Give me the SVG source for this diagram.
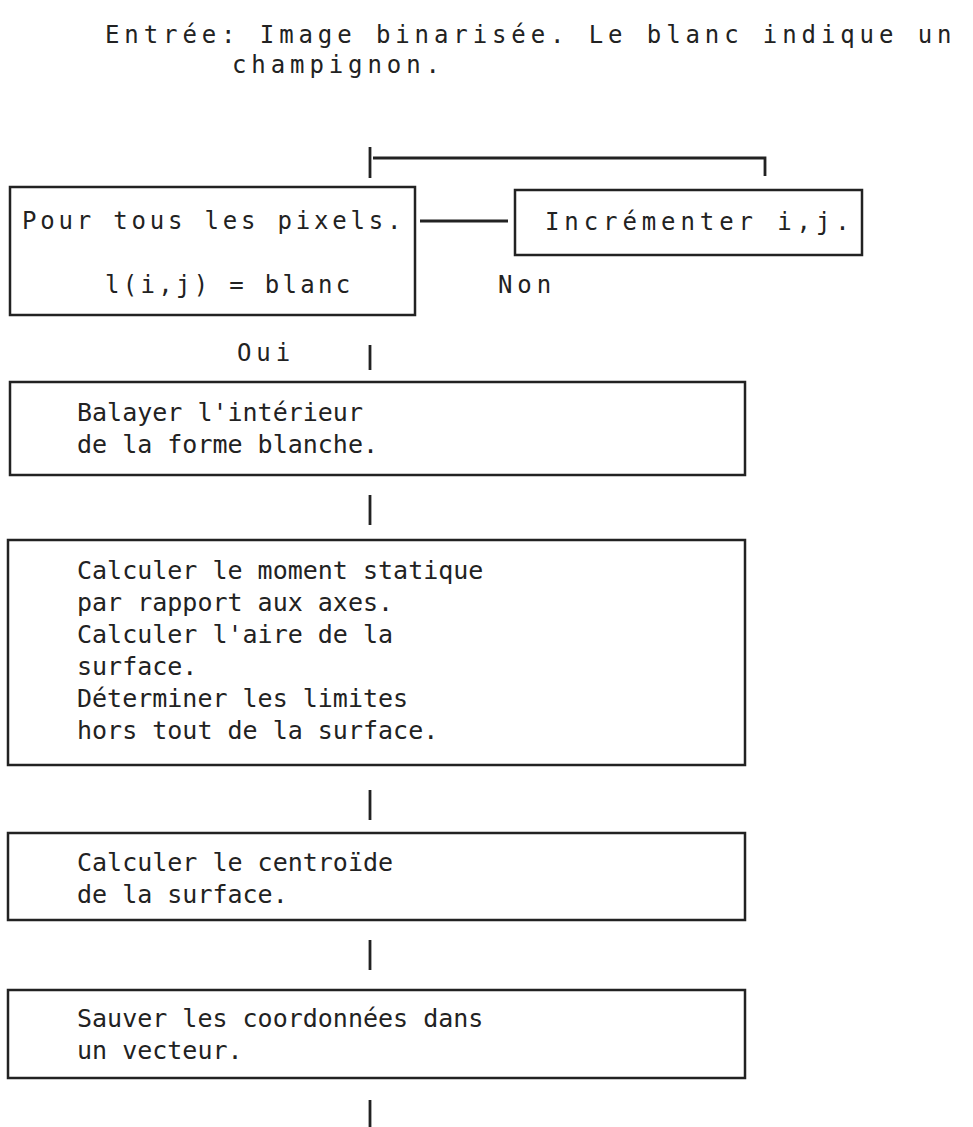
<svg xmlns="http://www.w3.org/2000/svg" width="973" height="1127" viewBox="0 0 973 1127">
<style>
.box{fill:none;stroke:#222;stroke-width:2.5}
.ln{fill:none;stroke:#222;stroke-width:2.8}
.t{font-family:"DejaVu Sans Mono","Liberation Mono",monospace;fill:#222}
.a{font-size:24px;letter-spacing:4.9px}
.c{font-size:24px;letter-spacing:3.8px}
.d{font-size:24px;letter-spacing:3.3px}
.b{font-size:25px}
</style>
<rect width="973" height="1127" fill="#fff"/>
<g id="title">
<text class="t a" x="105" y="43">Entrée: Image binarisée. Le blanc indique un</text>
<text class="t a" x="232" y="73">champignon.</text>
</g>
<g id="connectors">
<line class="ln" x1="370" y1="147" x2="370" y2="178"/>
<polyline class="ln" points="373,158 765,158 765,176"/>
<line class="ln" x1="420" y1="221" x2="508" y2="221"/>
<line class="ln" x1="370" y1="345" x2="370" y2="370"/>
<line class="ln" x1="370" y1="495" x2="370" y2="525"/>
<line class="ln" x1="370" y1="790" x2="370" y2="820"/>
<line class="ln" x1="370" y1="940" x2="370" y2="970"/>
<line class="ln" x1="370" y1="1100" x2="370" y2="1127"/>
<text class="t a" x="498" y="293">Non</text>
<text class="t a" x="237" y="361">Oui</text>
</g>
<g id="n-pixels">
<rect class="box" x="10" y="187" width="405" height="128"/>
<text class="t c" x="22" y="229">Pour tous les pixels.</text>
<text class="t d" x="105" y="293">l(i,j) = blanc</text>
</g>
<g id="n-incr">
<rect class="box" x="515" y="190" width="347" height="65"/>
<text class="t a" x="545" y="230">Incrémenter i,j.</text>
</g>
<g id="n-balayer">
<rect class="box" x="10" y="382" width="735" height="93"/>
<text class="t b" x="77" y="421">Balayer l'intérieur</text>
<text class="t b" x="77" y="453">de la forme blanche.</text>
</g>
<g id="n-calcul">
<rect class="box" x="8" y="540" width="737" height="225"/>
<text class="t b" x="77" y="579">Calculer le moment statique</text>
<text class="t b" x="77" y="611">par rapport aux axes.</text>
<text class="t b" x="77" y="643">Calculer l'aire de la</text>
<text class="t b" x="77" y="675">surface.</text>
<text class="t b" x="77" y="707">Déterminer les limites</text>
<text class="t b" x="77" y="739">hors tout de la surface.</text>
</g>
<g id="n-centroide">
<rect class="box" x="8" y="833" width="737" height="87"/>
<text class="t b" x="77" y="871">Calculer le centroïde</text>
<text class="t b" x="77" y="903">de la surface.</text>
</g>
<g id="n-sauver">
<rect class="box" x="8" y="990" width="737" height="88"/>
<text class="t b" x="77" y="1027">Sauver les coordonnées dans</text>
<text class="t b" x="77" y="1059">un vecteur.</text>
</g>
</svg>
